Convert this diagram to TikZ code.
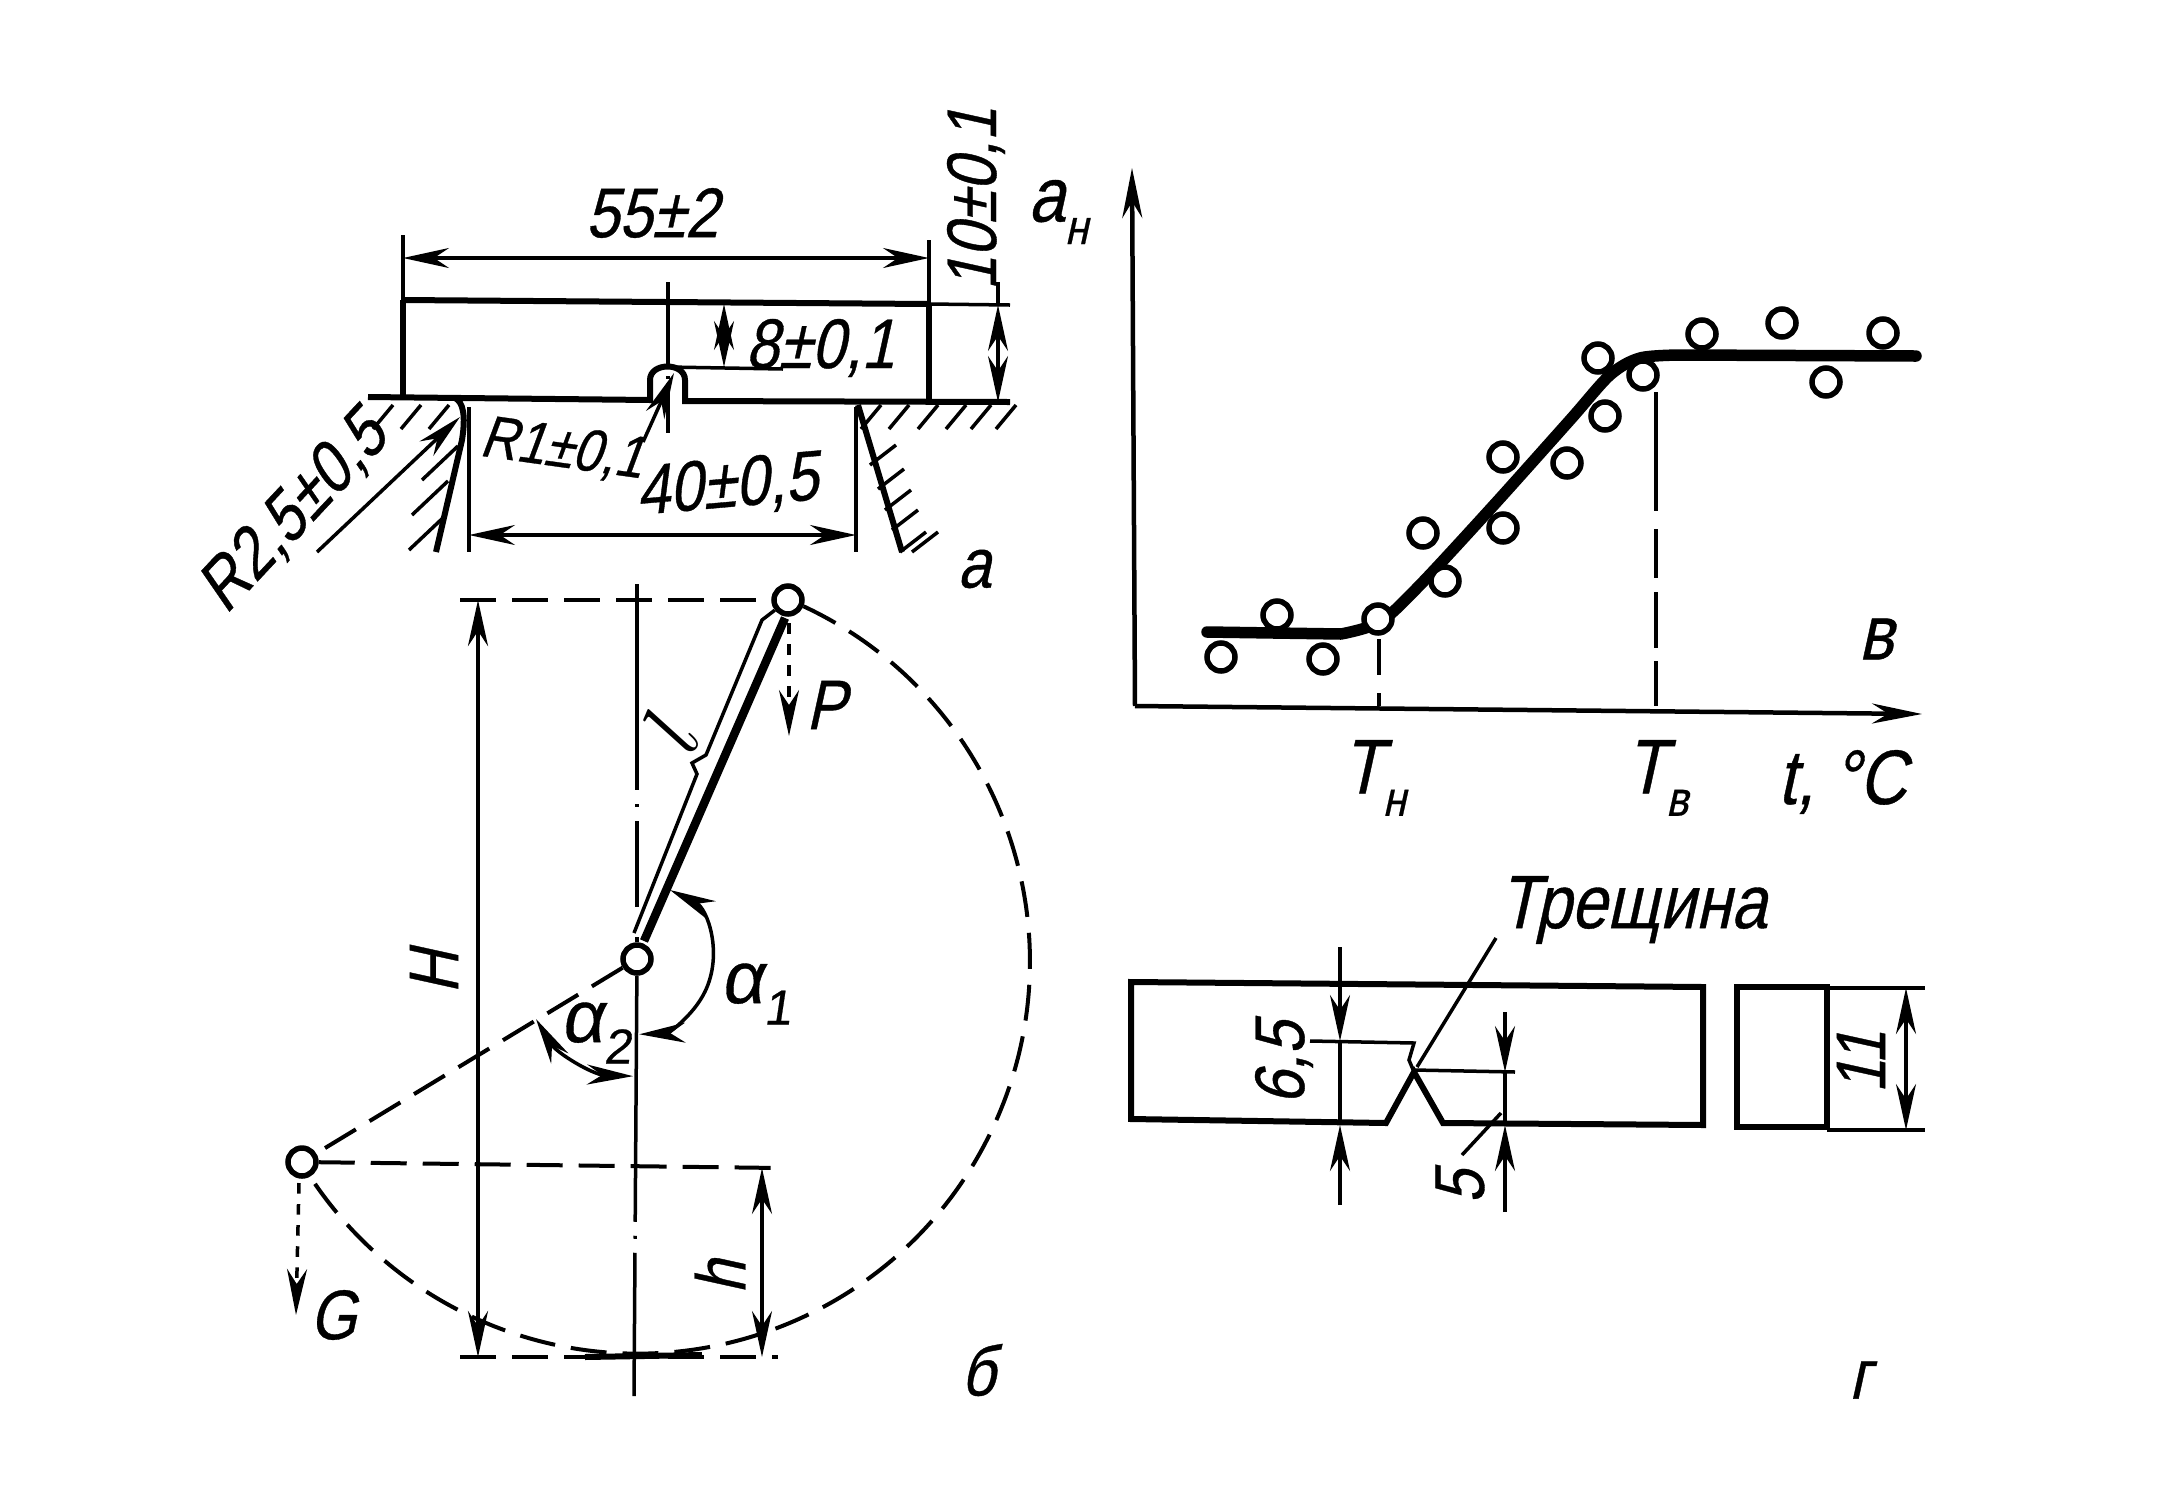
\documentclass[tikz,border=0pt]{standalone}
\usepackage{fontspec}
\setmainfont[FakeStretch=0.85,FakeSlant=0.22,FakeBold=0.5]{Liberation Sans}
\newfontfamily\widefont[FakeSlant=0.15,FakeBold=0.5]{Liberation Sans}
\usetikzlibrary{arrows.meta}
\newcommand{\subtxt}[1]{\raisebox{-0.55ex}{\fontsize{14}{14}\selectfont #1}}
\tikzset{
  txt/.style={inner sep=0pt, font=\fontsize{20}{20}\selectfont},
  angle txt/.style={inner sep=0pt, font=\widefont\fontsize{21}{21}\selectfont},
  thin line/.style={line width=0.35mm},
  main line/.style={line width=0.6mm},
  heavy line/.style={line width=1.15mm, line cap=round},
  long dash/.style={line width=0.4mm, dash pattern=on 3.6mm off 1.6mm},
  tip/.style={{Stealth[length=4.6mm,width=2mm]}-{Stealth[length=4.6mm,width=2mm]}},
  tip end/.style={-{Stealth[length=4.6mm,width=2mm]}},
  pivot/.style={circle, draw, line width=0.55mm, fill=white, inner sep=0pt, minimum size=2.8mm},
  dot/.style={circle, draw, line width=0.55mm, fill=white, inner sep=0pt, minimum size=2.8mm}
}
\begin{document}
\begin{tikzpicture}[x=0.1mm,y=-0.1mm]
\useasboundingbox (0,0) rectangle (2159,1499);

\coordinate (axa1) at (668,282);
\coordinate (axa2) at (668,433);
\node[txt] (w55) at (652,213) {55±2};
\node[txt, rotate=90] (w10) at (976,199) {10±0,1};
\node[txt] (w8) at (820,348) {8±0,1};
\node[txt, rotate=-8, font=\fontsize{17}{17}\selectfont] (wr1) at (562,450) {R1±0,1};
\node[txt, rotate=5] (w40) at (727,487) {40±0,5};
\node[txt, rotate=47] (wr2) at (294,513) {R2,5±0,5};
\node[txt] (la) at (974,569) {а};

\draw[main line] (403,300) -- (929,304);
\draw[thin line] (929,304) -- (1010,305);
\draw[main line] (403,300) -- (403,397);
\draw[main line] (929,304) -- (929,402);
\draw[thin line] (403,235) -- (403,300);
\draw[thin line] (929,240) -- (929,304);
\draw[main line] (368,397) -- (650,400) -- (650,380) .. controls (650,362) and (685,362) .. (685,380) -- (685,401) -- (1010,402);
\draw[thin line, dash pattern=on 8.4mm off 1mm on 0.3mm off 1mm on 10mm] (axa1) -- (axa2);
\draw[thin line, tip] (403,258) -- (929,258);
\draw[thin line, tip] (724,304) -- (724,367);
\draw[thin line] (668,367) -- (783,369);
\draw[thin line, tip] (998,305) -- (998,402);
\draw[thin line] (998,282) -- (998,305);
\draw[thin line, tip] (469,535) -- (856,535);
\draw[thin line] (469,407) -- (469,552);
\draw[thin line] (856,407) -- (856,552);
\draw[main line] (455,398) .. controls (463,402) and (466,415) .. (462,440) -- (436,552);
\draw[main line] (858,405) -- (902,552);
\draw[thin line, tip end] (317,552) -- (460,417);
\draw[thin line, tip end] (643,442) -- (674,373);
\foreach \xh in {393,421,449,881,909,938,966,991,1016}
  \draw[thin line] (\xh,405) -- ++(-20,24);
\foreach \xa/\ya in {422/480,412/515,409/550}
  \draw[thin line] (\xa,\ya) -- ++(36,-34);
\foreach \xa/\ya in {870/465,878/489,885/510,892/530,900/552,912/552}
  \draw[thin line] (\xa,\ya) -- ++(26,-20);

\node[pivot] (ptop) at (788,600) {};
\node[pivot] (pmid) at (637,959) {};
\node[pivot] (pg) at (302,1162) {};
\coordinate (axb1) at (637,584);
\coordinate (axb2) at (634,1396);
\node[txt] (lp) at (826,705) {P};
\node[txt, rotate=90] (lhh) at (434,972) {H};
\node[txt, rotate=90] (lh) at (720,1277) {h};
\node[txt] (lg) at (333,1315) {G};
\node[inner sep=0pt, rotate=62, font=\fontsize{24}{24}\selectfont] (ll) at (671,731) {$l$};
\node[angle txt] (la1) at (756,994) {α\subtxt{1}};
\node[angle txt] (la2) at (596,1033) {α\subtxt{2}};
\node[txt] (lb) at (978,1370) {б};

\draw[long dash] (ptop.-22) arc[start angle=65,end angle=-146,radius=39.2mm];
\draw[long dash] (460,600) -- (ptop);
\draw[long dash] (pmid) -- (pg);
\draw[long dash] (pg) -- (780,1168);
\draw[long dash] (460,1357) -- (778,1357);
\draw[main line] (585,1357) -- (702,1355);
\draw[thin line, dash pattern=on 20.6mm off 1.4mm on 0.3mm off 1.4mm on 8.6mm off 3mm] (axb1) -- (pmid);
\draw[thin line, dash pattern=on 24.6mm off 1.4mm on 0.3mm off 1.4mm on 14.5mm] (pmid) -- (axb2);
\draw[line width=0.85mm] (644,941) -- (785,618);
\draw[thin line] (634,933) -- (697,774) -- (692,763) -- (706,755) -- (762,620) -- (ptop);
\draw[thin line, dashed, tip end] (789,623) -- (789,736);
\draw[line width=0.45mm, tip] (478,600) -- (478,1357);
\draw[thin line, tip] (762,1168) -- (762,1357);
\draw[thin line, dashed, tip end] (299,1183) -- (296,1315);
\draw[thin line, tip] (670,890) arc[start angle=64,end angle=-88,radius=7.6mm];
\draw[thin line, tip] (536,1019) arc[start angle=211,end angle=268,radius=11.8mm];

\coordinate (orig) at (1135,706);
\node[txt, font=\fontsize{22}{22}\selectfont] (an) at (1058,212) {а\subtxt{н}};
\node[txt, font=\fontsize{22}{22}\selectfont] (tn) at (1374,778) {T\subtxt{н}};
\node[txt, font=\fontsize{22}{22}\selectfont] (tv) at (1657,778) {T\subtxt{в}};
\node[txt, font=\fontsize{22}{22}\selectfont] (tc) at (1842,782) {t, °C};
\node[txt, font=\fontsize{22}{22}\selectfont] (lv) at (1876,639) {в};

\draw[line width=0.45mm, {Stealth[length=5mm,width=2mm]}-] (1132,168) -- (orig);
\draw[line width=0.45mm, -{Stealth[length=5mm,width=2mm]}] (orig) -- (1922,714);
\draw[heavy line] (1207,632) -- (1341,634) plot[smooth, tension=.5] coordinates {(1341,634) (1380,622) (1420,585) (1493,506) (1570,420) (1610,375) (1640,358) (1680,355)} -- (1916,356);
\draw[thin line, dash pattern=on 3.6mm off 1.8mm on 1.5mm off 5mm] (1379,639) -- (1379,706);
\draw[thin line, dash pattern=on 11.9mm off 1.8mm on 4.9mm off 1.4mm on 5.6mm off 1.3mm on 4.7mm off 1mm] (1656,392) -- (1656,706);
\foreach \xd/\yd/\nm in {1221/657/a,1277/615/b,1323/659/c,1378/619/d,1445/581/e,1423/533/f,1503/528/g,1503/457/h,1567/463/i,1605/416/j,1598/358/k,1643/375/l,1702/334/m,1782/323/n,1826/382/o,1883/333/p}
  \node[dot] (d\nm) at (\xd,\yd) {};

\node[txt, font=\fontsize{21.5}{21.5}\selectfont] (crack) at (1633,910) {Трещина};
\node[txt, rotate=90] (w65) at (1284,1063) {6,5};
\node[txt, rotate=90] (w5) at (1460,1187) {5};
\node[txt, rotate=90] (w11) at (1861,1062) {11};
\node[txt] (lc) at (1860,1380) {г};

\draw[main line] (1131,982) -- (1703,987) -- (1703,1125) -- (1443,1123) -- (1414,1072) -- (1386,1123) -- (1131,1119) -- cycle;
\draw[thin line] (1414,1072) -- (1409,1060) -- (1414,1043) -- (1310,1041);
\draw[thin line] (1414,1070) -- (1515,1072);
\draw[thin line, tip end] (1340,947) -- (1340,1041);
\draw[thin line] (1340,1041) -- (1340,1125);
\draw[thin line, tip end] (1340,1205) -- (1340,1125);
\draw[thin line, tip end] (1505,1012) -- (1505,1072);
\draw[thin line] (1505,1072) -- (1505,1125);
\draw[thin line, tip end] (1505,1212) -- (1505,1125);
\draw[thin line] (1462,1155) -- (1501,1113);
\draw[thin line] (1496,938) -- (1417,1067);
\draw[main line] (1737,987) rectangle (1827,1127);
\draw[thin line] (1827,988) -- (1925,988);
\draw[thin line] (1827,1130) -- (1925,1130);
\draw[thin line, tip] (1906,988) -- (1906,1130);
\end{tikzpicture}
\end{document}
